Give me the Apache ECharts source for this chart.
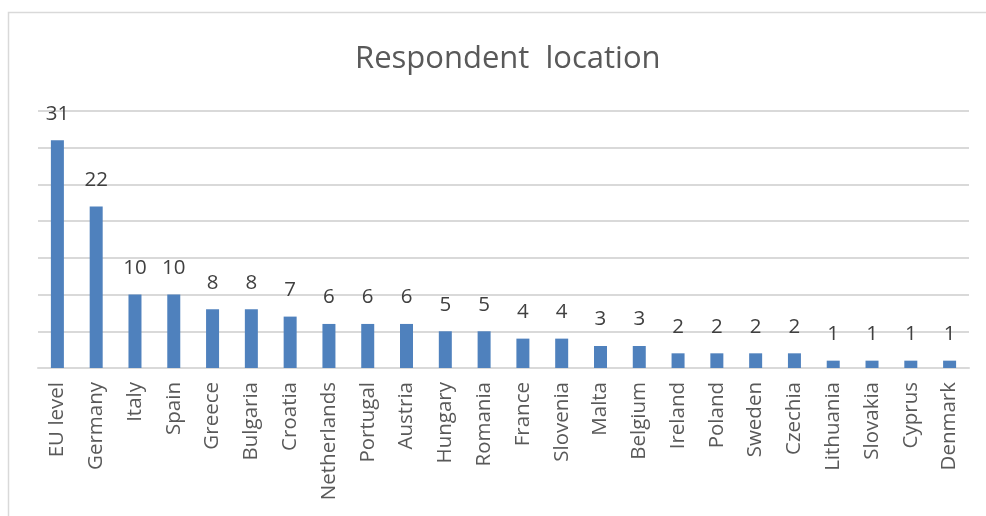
<!DOCTYPE html>
<html><head><meta charset="utf-8">
<script src="https://cdn.jsdelivr.net/npm/echarts@6/dist/echarts.min.js"></script>
<style>html,body{margin:0;padding:0;background:#fff}#c{width:986px;height:516px;}</style>
</head><body><div id="c"></div>
<script>
const categories = ["EU level","Germany","Italy","Spain","Greece","Bulgaria","Croatia","Netherlands","Portugal","Austria","Hungary","Romania","France","Slovenia","Malta","Belgium","Ireland","Poland","Sweden","Czechia","Lithuania","Slovakia","Cyprus","Denmark"];
const values = [31,22,10,10,8,8,7,6,6,6,5,5,4,4,3,3,2,2,2,2,1,1,1,1];
const titleText = "Respondent  location";

const chart = echarts.init(document.getElementById('c'));
chart.setOption({
  animation:false,
  graphic:[{type:'rect',shape:{x:8.5,y:12.5,width:1000,height:520},style:{fill:'none',stroke:'#d9d9d9',lineWidth:1.5},silent:true}],
  title:{text:titleText,left:350,top:39,textStyle:{fontFamily:'Open Sans',fontSize:31,fontWeight:'normal',color:'#595959'}},
  grid:{left:38,right:17,top:111,bottom:148,containLabel:false},
  xAxis:{type:'category',data:categories,
    axisLine:{lineStyle:{color:'#d9d9d9',width:2}},axisTick:{show:false},
    axisLabel:{rotate:90,interval:0,margin:14,fontFamily:'Open Sans',fontSize:20.5,color:'#595959'}},
  yAxis:{type:'value',min:0,max:35,interval:5,axisLabel:{show:false},axisLine:{show:false},axisTick:{show:false},
    splitLine:{lineStyle:{color:'#d9d9d9',width:2}}},
  series:[{type:'bar',data:values,barWidth:13,itemStyle:{color:'#4f81bd'},
    label:{show:true,position:'top',distance:16,fontFamily:'Open Sans',fontSize:20.5,color:'#404040'}}]
});
</script></body></html>
